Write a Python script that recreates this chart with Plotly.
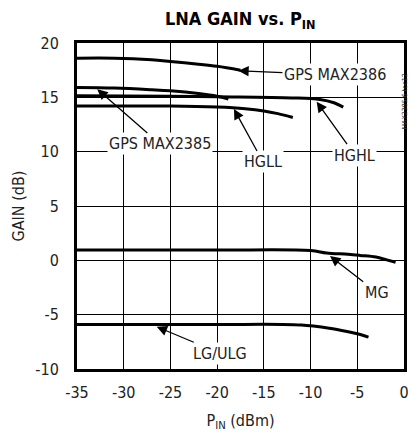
import plotly.graph_objects as go

# P_IN (dBm) and gain (dB) for each curve
x_gps2386 = [-35, -31, -27, -25, -22, -20, -17.5]
y_gps2386 = [18.6, 18.6, 18.45, 18.3, 18.05, 17.85, 17.5]

x_gps2385 = [-35, -31, -27, -25, -22, -20, -18.8]
y_gps2385 = [15.9, 15.85, 15.7, 15.6, 15.35, 15.1, 14.85]

x_hghl = [-35, -25, -20, -12, -9, -7.5, -6.5]
y_hghl = [15.15, 15.1, 15.05, 14.95, 14.8, 14.5, 14.1]

x_hgll = [-35, -25, -20, -17, -15, -13.5, -11.9]
y_hgll = [14.2, 14.2, 14.1, 13.95, 13.75, 13.5, 13.15]

x_mg = [-35, -20, -10, -8.3, -6, -4.7, -3, -1.85, -0.9]
y_mg = [0.95, 0.95, 0.9, 0.68, 0.55, 0.45, 0.3, 0.04, -0.18]

x_lg = [-35, -20, -13, -11, -9.7, -8, -6.1, -5, -3.8]
y_lg = [-5.9, -5.9, -5.9, -5.95, -6.05, -6.25, -6.55, -6.75, -7.07]

x_ticks = [-35, -30, -25, -20, -15, -10, -5, 0]
x_ticktext = ["-35", "-30", "-25", "-20", "-15", "-10", "-5", "0"]
y_ticks = [-10, -5, 0, 5, 10, 15, 20]
y_ticktext = ["-10", "-5", "0", "5", "10", "15", "20"]

# label text, arrow head (x, y), text centre (x, y)
labels = [
    ("GPS MAX2386", -17.74, 17.45, -7.39, 17.06),
    ("HGHL", -9.35, 14.6, -5.25, 9.69),
    ("HGLL", -18.2, 13.93, -15.09, 9.05),
    ("GPS MAX2385", -32.83, 15.74, -26.12, 10.71),
    ("MG", -7.92, 0.4, -2.92, -2.94),
    ("LG/ULG", -26.47, -6.11, -19.69, -8.55),
]

FONT = "DejaVu Sans Condensed, Liberation Sans, sans-serif"

fig = go.Figure()
for xs, ys in [(x_gps2386, y_gps2386), (x_gps2385, y_gps2385), (x_hghl, y_hghl),
               (x_hgll, y_hgll), (x_mg, y_mg), (x_lg, y_lg)]:
    fig.add_trace(go.Scatter(x=xs, y=ys, mode="lines",
                             line=dict(color="black", width=3, shape="spline"),
                             showlegend=False, hoverinfo="skip"))

for text, hx, hy, tx, ty in labels:
    fig.add_annotation(x=hx, y=hy, ax=tx, ay=ty, xref="x", yref="y",
                       axref="x", ayref="y", text=text, showarrow=True,
                       arrowhead=2, arrowsize=1.6, arrowwidth=1.3,
                       arrowcolor="black", bgcolor="white", borderpad=1,
                       font=dict(family=FONT, size=16, color="#222"))

fig.add_annotation(x=1.0, y=0.91, xref="paper", yref="paper", text="MAX2385/6 toc12",
                   showarrow=False, textangle=-90, xshift=6, borderpad=0,
                   font=dict(family=FONT, size=7, color="#333"))

fig.update_layout(
    template="none",
    width=412, height=432,
    margin=dict(l=77, r=8, t=43, b=63, pad=0),
    paper_bgcolor="white", plot_bgcolor="white",
    font=dict(family=FONT, size=16, color="#222"),
    title=dict(text="<b>LNA GAIN vs. P<sub>IN</sub></b>", x=0.583, xanchor="center",
               y=1 - 19 / 432, yanchor="middle",
               font=dict(family=FONT, size=18, color="black")),
)
fig.update_xaxes(range=[-35, 0], tickmode="array", tickvals=x_ticks, ticktext=x_ticktext,
                 showgrid=True, gridcolor="#000000", gridwidth=1, zeroline=False,
                 showline=True, linecolor="black", linewidth=3, mirror=True,
                 ticks="", ticklabelstandoff=7,
                 title=dict(text="P<sub>IN</sub> (dBm)", standoff=14,
                            font=dict(family=FONT, size=16)))
fig.update_yaxes(range=[-10, 20], tickmode="array", tickvals=y_ticks, ticktext=y_ticktext,
                 showgrid=True, gridcolor="#000000", gridwidth=1, zeroline=False,
                 showline=True, linecolor="black", linewidth=3, mirror=True,
                 ticks="", ticklabelstandoff=12,
                 title=dict(text="GAIN (dB)", standoff=7,
                            font=dict(family=FONT, size=16)))

fig.write_html("out.html", config={"displayModeBar": False, "staticPlot": True},
               post_script="document.body.style.margin='0';document.body.style.padding='0';")
